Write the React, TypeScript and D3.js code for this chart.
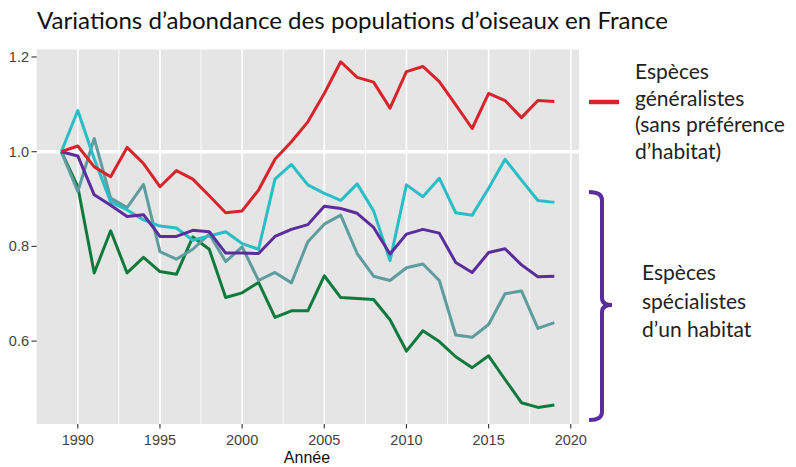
import React from "react";
import * as d3 from "d3";

const years = [1989, 1990, 1991, 1992, 1993, 1994, 1995, 1996, 1997, 1998, 1999, 2000, 2001, 2002, 2003, 2004, 2005, 2006, 2007, 2008, 2009, 2010, 2011, 2012, 2013, 2014, 2015, 2016, 2017, 2018, 2019];

const generalistes = [1.0, 1.012, 0.968, 0.947, 1.009, 0.975, 0.926, 0.96, 0.942, 0.907, 0.871, 0.875, 0.919, 0.984, 1.021, 1.063, 1.123, 1.19, 1.157, 1.147, 1.092, 1.169, 1.18, 1.148, 1.099, 1.049, 1.123, 1.108, 1.072, 1.108, 1.106];
const cyanSeries = [1.0, 1.087, 0.985, 0.894, 0.877, 0.856, 0.843, 0.839, 0.813, 0.822, 0.831, 0.806, 0.794, 0.942, 0.973, 0.93, 0.912, 0.897, 0.932, 0.875, 0.77, 0.93, 0.905, 0.944, 0.871, 0.866, 0.923, 0.984, 0.94, 0.897, 0.893];
const purpleSeries = [1.0, 0.991, 0.909, 0.887, 0.863, 0.867, 0.821, 0.821, 0.834, 0.831, 0.786, 0.786, 0.785, 0.821, 0.836, 0.846, 0.885, 0.88, 0.87, 0.84, 0.784, 0.826, 0.836, 0.828, 0.766, 0.745, 0.787, 0.795, 0.761, 0.736, 0.737];
const tealSeries = [1.0, 0.916, 1.028, 0.902, 0.882, 0.931, 0.789, 0.773, 0.794, 0.826, 0.768, 0.799, 0.728, 0.745, 0.723, 0.81, 0.847, 0.866, 0.785, 0.737, 0.728, 0.755, 0.763, 0.728, 0.613, 0.608, 0.635, 0.7, 0.706, 0.627, 0.639];
const greenSeries = [1.0, 0.926, 0.744, 0.833, 0.744, 0.777, 0.747, 0.741, 0.82, 0.794, 0.692, 0.702, 0.724, 0.65, 0.664, 0.664, 0.738, 0.692, 0.69, 0.688, 0.645, 0.579, 0.622, 0.599, 0.567, 0.544, 0.569, 0.519, 0.47, 0.46, 0.465];

const seriesList = [
  { name: "green", values: greenSeries, color: "#107A3D" },
  { name: "teal", values: tealSeries, color: "#5E9C9E" },
  { name: "cyan", values: cyanSeries, color: "#29BDC6" },
  { name: "purple", values: purpleSeries, color: "#5B2C9C" },
  { name: "red", values: generalistes, color: "#D7242A" },
];

const xMajorTicks = [1990, 1995, 2000, 2005, 2010, 2015, 2020];
const xMinorTicks = [1992.5, 1997.5, 2002.5, 2007.5, 2012.5, 2017.5];
const yTicks = [0.6, 0.8, 1.0, 1.2];

const title = "Variations d’abondance des populations d’oiseaux en France";
const legendGeneral = ["Espèces", "généralistes", "(sans préférence", "d’habitat)"];
const legendSpecial = ["Espèces", "spécialistes", "d’un habitat"];
const xAxisTitle = "Année";

export default function App() {
  const left = 36.7, right = 579, top = 49.5, bottom = 424;
  const x = d3.scaleLinear().domain([1987.5, 2020.5]).range([left, right]);
  const y = d3.scaleLinear().domain([0.425, 1.2158]).range([bottom, top]);
  const line = d3
    .line<number>()
    .x((_, i) => x(years[i]))
    .y((d) => y(d));

  const axisFont = "'Liberation Sans', Arial, sans-serif";
  const textFont = "Lato, 'Open Sans', sans-serif";

  return (
    <svg
      width={796}
      height={467}
      style={{ position: "absolute", left: 0, top: 0, background: "#fff" }}
    >
      <text x={37} y={29} fontFamily={textFont} fontSize={23} fill="#111" textLength={631} lengthAdjust="spacingAndGlyphs">
        {title}
      </text>
      <rect x={left} y={top} width={right - left} height={bottom - top} fill="#E5E5E5" />
      {xMinorTicks.map((t) => (
        <line key={"mn" + t} x1={x(t)} x2={x(t)} y1={top} y2={bottom} stroke="#fff" strokeWidth={0.8} />
      ))}
      {xMajorTicks.map((t) => (
        <line key={"mj" + t} x1={x(t)} x2={x(t)} y1={top} y2={bottom} stroke="#fff" strokeWidth={1.6} />
      ))}
      <line x1={left} x2={right} y1={y(1.0)} y2={y(1.0)} stroke="#fff" strokeWidth={3.5} />
      {seriesList.map((s) => (
        <path key={s.name} d={line(s.values) || ""} fill="none" stroke={s.color} strokeWidth={3} strokeLinejoin="round" />
      ))}
      {yTicks.map((t) => (
        <g key={"y" + t}>
          <line x1={31.5} x2={left} y1={y(t)} y2={y(t)} stroke="#333" strokeWidth={1.1} />
          <text x={29} y={y(t)} dy="0.35em" textAnchor="end" fontFamily={axisFont} fontSize={14.5} fill="#444">
            {t.toFixed(1)}
          </text>
        </g>
      ))}
      {xMajorTicks.map((t) => (
        <g key={"x" + t}>
          <line x1={x(t)} x2={x(t)} y1={bottom} y2={bottom + 4.5} stroke="#333" strokeWidth={1.1} />
          <text x={x(t)} y={440} dy="0.35em" textAnchor="middle" fontFamily={axisFont} fontSize={14.5} fill="#444">
            {t}
          </text>
        </g>
      ))}
      <text x={307} y={457} dy="0.35em" textAnchor="middle" fontFamily={axisFont} fontSize={16} fill="#111">
        {xAxisTitle}
      </text>
      <line x1={589} x2={619} y1={102} y2={102} stroke="#D7242A" strokeWidth={4.5} />
      {legendGeneral.map((t, i) => (
        <text key={"lg" + i} x={635} y={71.7 + i * 26.7} dy="0.35em" fontFamily={textFont} fontSize={21} fill="#222">
          {t}
        </text>
      ))}
      <path
        d="M589,192 Q602,192 602,200 L602,298 Q602,305 612,305 Q602,305 602,312 L602,412 Q602,420 589,420"
        fill="none"
        stroke="#5B2C9C"
        strokeWidth={4}
      />
      {legendSpecial.map((t, i) => (
        <text key={"ls" + i} x={642} y={273 + i * 28.5} dy="0.35em" fontFamily={textFont} fontSize={21} fill="#222">
          {t}
        </text>
      ))}
    </svg>
  );
}
